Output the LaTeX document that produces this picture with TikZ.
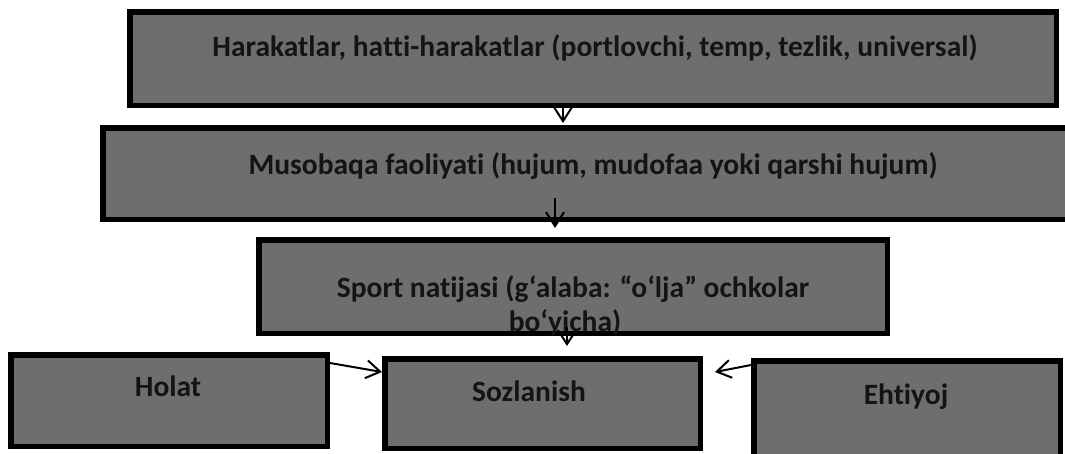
\documentclass[tikz,border=0pt]{standalone}
\usepackage{fontspec}
\setmainfont[Ligatures=NoCommon]{Carlito}
\usetikzlibrary{arrows.meta,calc}
\definecolor{boxgray}{RGB}{110,110,110}
\definecolor{txt}{RGB}{20,20,20}
\begin{document}
\begin{tikzpicture}[x=1pt,y=-1pt,
  box/.style={draw=black, line width=5.5pt, fill=boxgray, inner sep=0pt},
  lbl/.style={font=\bfseries\fontsize{29.5}{33}\selectfont, anchor=base, inner sep=0pt, text=txt},
  arr/.style={line width=2pt, -{Straight Barb[length=14pt,width=18pt,line width=2pt]}}]
\useasboundingbox (0,0) rectangle (1065,453);
% boxes
\node[box, minimum width=926.5pt, minimum height=93.5pt] (b1) at (593,58.5) {};
\node[box, draw=none, minimum width=1000pt, minimum height=91.5pt] (b2) at (603,173.5) {};
\draw[line width=5.5pt] ([xshift=-20pt,yshift=-2.75pt]b2.north east) -- ([xshift=2.75pt,yshift=-2.75pt]b2.north west)
  -- ([xshift=2.75pt,yshift=2.75pt]b2.south west) -- ([xshift=-20pt,yshift=2.75pt]b2.south east);
\node[box, minimum width=628.5pt, minimum height=93.5pt] (b3) at (573,286.5) {};
\node[box, minimum width=316.5pt, minimum height=91.5pt] (hol) at (169,400.5) {};
\node[box, minimum width=315.5pt, minimum height=89.5pt] (soz) at (542.5,403.5) {};
\node[box, minimum width=306.5pt, minimum height=96.5pt] (eht) at (907,409) {};
% labels
\node[lbl] (t1) at (595,56) {Harakatlar, hatti-harakatlar (portlovchi, temp, tezlik, universal)};
\node[lbl] (t2) at (593,174) {Musobaqa faoliyati (hujum, mudofaa yoki qarshi hujum)};
\node[lbl] (t3a) at (573,297) {Sport natijasi (g‘alaba: “o‘lja” ochkolar};
\node[lbl] (t3b) at (565,331) {bo‘yicha)};
\node[lbl] (t4) at (168,396) {Holat};
\node[lbl] (t5) at (529,401) {Sozlanish};
\node[lbl] (t6) at (906,404) {Ehtiyoj};
% connectors
\draw[arr] (b1.south -| 563,0) -- ($(b2.north -| 563,0)+(0,-2)$);
\draw[arr] ($(b2.south -| 555,0)+(0,-24)$) -- ($(b3.north -| 555,0)+(0,-9)$);
\draw[arr] ($(b3.south -| 567,0)+(0,-9)$) -- ($(soz.north -| 567,0)+(0,-10)$);
\draw[arr] ($(hol.east |- 0,363)$) -- ($(soz.west |- 0,372)$);
\draw[arr] ($(eht.west |- 0,365)$) -- ($(soz.east |- 0,372)+(12,0)$);
\end{tikzpicture}
\end{document}
